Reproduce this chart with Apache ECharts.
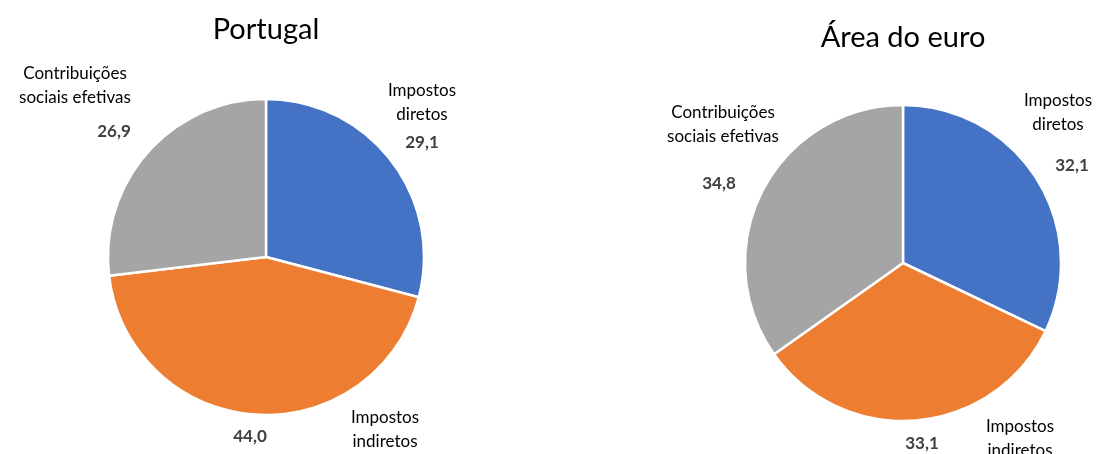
<!DOCTYPE html>
<html><head><meta charset="utf-8">
<script src="https://cdn.jsdelivr.net/npm/echarts@6/dist/echarts.min.js"></script>
<style>html,body{margin:0;padding:0;background:#fff}#c{width:1100px;height:454px}</style>
</head><body><div id="c"></div>
<script>
const categories = ['Impostos\ndiretos', 'Impostos\nindiretos', 'Contribuições\nsociais efetivas'];
const portugalValues = [29.1, 44.0, 26.9];
const euroValues = [32.1, 33.1, 34.8];
const titles = ['Portugal', 'Área do euro'];

const colors = ['#4472C4', '#ED7D31', '#A5A5A5'];
const FONT = 'Lato, "Open Sans", sans-serif';
// label placement (layout only)
const namePos = [
  [[422, 103], [385, 430], [75, 86]],
  [[1058, 113], [1020, 439], [723, 125]]
];
const valuePos = [
  [[422, 143], [250, 437], [114, 132]],
  [[1072, 166], [922, 444], [719, 184]]
];
const centers = [[266, 257], [903, 263]];
const R = 158;

function fmt(v) { return v.toFixed(1).replace('.', ','); }

function mk(values) {
  return categories.map((n, i) => ({ name: n, value: values[i] }));
}

const series = [];
[portugalValues, euroValues].forEach((vals, k) => {
  series.push({
    type: 'pie', center: centers[k], radius: R, startAngle: 90, clockwise: true,
    data: mk(vals),
    itemStyle: { borderColor: '#fff', borderWidth: 2.5, color: p => colors[p.dataIndex] },
    emphasis: { disabled: true },
    label: { show: true, position: 'outside', overflow: 'none', formatter: '{b}', color: '#000', fontFamily: FONT, fontSize: 17, lineHeight: 24, align: 'center' },
    labelLine: { show: false },
    labelLayout: p => ({ x: namePos[k][p.dataIndex][0], y: namePos[k][p.dataIndex][1], align: 'center', verticalAlign: 'middle' }),
    animation: false
  });
  series.push({
    type: 'pie', center: centers[k], radius: R, startAngle: 90, clockwise: true,
    data: mk(vals), silent: true,
    itemStyle: { color: 'rgba(0,0,0,0)', borderWidth: 0 },
    emphasis: { disabled: true },
    label: { show: true, position: 'outside', overflow: 'none', formatter: p => fmt(p.value), color: '#404040', fontWeight: 'bold', fontFamily: FONT, fontSize: 17 },
    labelLine: { show: false },
    labelLayout: p => ({ x: valuePos[k][p.dataIndex][0], y: valuePos[k][p.dataIndex][1], align: 'center', verticalAlign: 'middle' }),
    animation: false
  });
});

const chart = echarts.init(document.getElementById('c'), null, { renderer: 'canvas' });
chart.setOption({
  backgroundColor: '#fff',
  animation: false,
  title: [
    { text: titles[0], left: 261, top: 10, textAlign: 'center', textStyle: { fontFamily: FONT, fontSize: 29, fontWeight: 'normal', color: '#000' } },
    { text: titles[1], left: 898, top: 18, textAlign: 'center', textStyle: { fontFamily: FONT, fontSize: 29, fontWeight: 'normal', color: '#000' } }
  ],
  series: series
});
</script></body></html>
